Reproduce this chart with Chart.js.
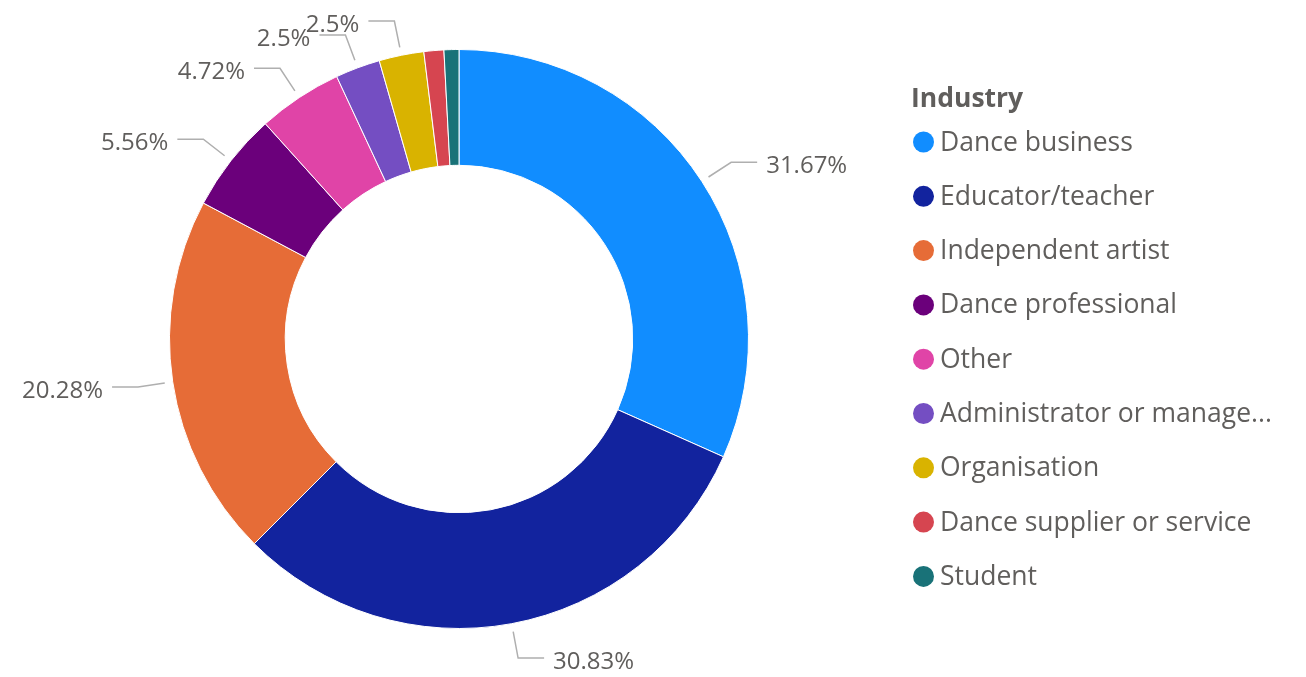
<!DOCTYPE html>
<html>
<head>
<meta charset="utf-8">
<script src="https://cdn.jsdelivr.net/npm/chart.js@4.4.0/dist/chart.umd.min.js"></script>
<style>
  html, body { margin: 0; padding: 0; background: #fff; }
  #wrap { width: 1306px; height: 677px; }
</style>
</head>
<body>
<div id="wrap"><canvas id="industryChart" width="1306" height="677"></canvas></div>
<script>
const legendTitle = 'Industry';
const categories = [
  'Dance business',
  'Educator/teacher',
  'Independent artist',
  'Dance professional',
  'Other',
  'Administrator or manager',
  'Organisation',
  'Dance supplier or service',
  'Student'
];
const shares = [31.67, 30.83, 20.28, 5.56, 4.72, 2.5, 2.5, 1.11, 0.83];
const sliceColors = ['#118DFF', '#12239E', '#E66C37', '#6B007B', '#E044A7', '#744EC2', '#D9B300', '#D64550', '#197278'];

const textColor = '#605E5C';
const fontFamily = '"Open Sans", "Noto Sans", sans-serif';

// cut a legend name so the text part fits, then add dots
function fitText(ctx, text, maxWidth) {
  if (ctx.measureText(text).width <= maxWidth) return text;
  let t = text;
  while (t.length > 1 && ctx.measureText(t).width > maxWidth) t = t.slice(0, -1);
  return t + '...';
}

// percentage labels with leader lines
const sliceLabels = {
  id: 'sliceLabels',
  afterDatasetsDraw(chart) {
    const ctx = chart.ctx;
    const meta = chart.getDatasetMeta(0);
    ctx.save();
    ctx.font = '24px ' + fontFamily;
    ctx.textBaseline = 'middle';
    meta.data.forEach((arc, i) => {
      const v = shares[i];
      if (v < 2) return;
      const p = arc.getProps(['x', 'y', 'startAngle', 'endAngle', 'outerRadius'], true);
      const a = (p.startAngle + p.endAngle) / 2;
      const r1 = p.outerRadius + 8;
      const r2 = p.outerRadius + 35;
      const x1 = p.x + Math.cos(a) * r1, y1 = p.y + Math.sin(a) * r1;
      const x2 = p.x + Math.cos(a) * r2, y2 = p.y + Math.sin(a) * r2;
      const dir = Math.cos(a) >= 0 ? 1 : -1;
      const x3 = x2 + dir * 26;
      ctx.strokeStyle = '#AFAFAF';
      ctx.lineWidth = 1.5;
      ctx.beginPath();
      ctx.moveTo(x1, y1);
      ctx.lineTo(x2, y2);
      ctx.lineTo(x3, y2);
      ctx.stroke();
      ctx.fillStyle = textColor;
      ctx.textAlign = dir > 0 ? 'left' : 'right';
      ctx.fillText(`${+v.toFixed(2)}%`, x3 + dir * 9, y2 + 4);
    });
    ctx.restore();
  }
};

// legend on the right, drawn by hand
const sideLegend = {
  id: 'sideLegend',
  afterDraw(chart) {
    const ctx = chart.ctx;
    ctx.save();
    ctx.fillStyle = textColor;
    ctx.textBaseline = 'middle';
    ctx.textAlign = 'left';
    ctx.font = 'bold 26.5px ' + fontFamily;
    ctx.fillText(legendTitle, 911, 99);
    ctx.font = '26.5px ' + fontFamily;
    chart.data.labels.forEach((name, i) => {
      const y = 142 + i * 54.3;
      ctx.fillStyle = sliceColors[i];
      ctx.beginPath();
      ctx.arc(923.5, y, 10.5, 0, Math.PI * 2);
      ctx.fill();
      ctx.fillStyle = textColor;
      ctx.fillText(fitText(ctx, name, 316), 940, y + 1);
    });
    ctx.restore();
  }
};

new Chart(document.getElementById('industryChart'), {
  type: 'doughnut',
  data: {
    labels: categories,
    datasets: [{
      data: shares,
      backgroundColor: sliceColors,
      borderColor: '#ffffff',
      borderWidth: 1,
      hoverOffset: 0
    }]
  },
  options: {
    responsive: false,
    animation: false,
    cutout: '60%',
    layout: { padding: { top: 49, bottom: 48, left: 0, right: 388 } },
    plugins: {
      legend: { display: false },
      tooltip: { enabled: false }
    }
  },
  plugins: [sliceLabels, sideLegend]
});
</script>
</body>
</html>
